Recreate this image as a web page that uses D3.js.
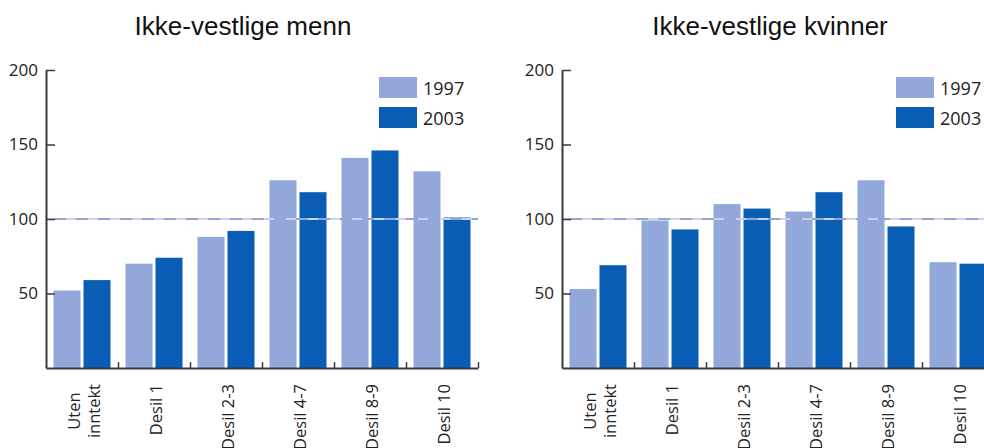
<!DOCTYPE html>
<html>
<head>
<meta charset="utf-8">
<script src="https://cdn.jsdelivr.net/npm/d3@7"></script>
<style>
  html, body { margin: 0; padding: 0; background: #ffffff; }
  svg { display: block; }
</style>
</head>
<body>
<svg id="chart" width="984" height="448"></svg>
<script>
// ---- data ----
const categories = ["Uten\ninntekt", "Desil 1", "Desil 2-3", "Desil 4-7", "Desil 8-9", "Desil 10"];
const years = ["1997", "2003"];
const titles = ["Ikke-vestlige menn", "Ikke-vestlige kvinner"];
const menn1997 = [52, 70, 88, 126, 141, 132];
const menn2003 = [59, 74, 92, 118, 146, 101];
const kvinner1997 = [53, 99, 110, 105, 126, 71];
const kvinner2003 = [69, 93, 107, 118, 95, 70];
const yTicks = [50, 100, 150, 200];
const referenceValue = 100;

const panels = [
  { title: titles[0], series: [menn1997, menn2003], x0: 46, titleX: 243, legendX: 379 },
  { title: titles[1], series: [kvinner1997, kvinner2003], x0: 562, titleX: 770, legendX: 896 }
];

const colors = ["#93a8da", "#0a5db4"];
const svg = d3.select("#chart");
const bandW = 72;
const yTop = 70, yBase = 368;

panels.forEach(p => {
  const g = svg.append("g");
  const x = d3.scaleBand().domain(categories).range([p.x0, p.x0 + bandW * categories.length]).padding(0);
  const x1 = d3.scaleBand().domain(years).range([7.5, 64.5]).paddingInner(0.1);
  const y = d3.scaleLinear().domain([0, 200]).range([yBase, yTop]);

  // title
  g.append("text")
    .attr("x", p.titleX).attr("y", 35)
    .attr("text-anchor", "middle")
    .attr("font-family", "Liberation Sans, Arial, sans-serif")
    .attr("font-size", 26)
    .attr("fill", "#111")
    .text(p.title);

  // bars
  years.forEach((yr, si) => {
    g.append("g").selectAll("rect")
      .data(p.series[si])
      .join("rect")
      .attr("x", (d, i) => x(categories[i]) + x1(yr))
      .attr("width", x1.bandwidth())
      .attr("y", d => y(d))
      .attr("height", d => y(0) - y(d))
      .attr("fill", colors[si]);
  });

  // reference dashed line
  g.append("line")
    .attr("x1", p.x0).attr("x2", x.range()[1])
    .attr("y1", y(referenceValue)).attr("y2", y(referenceValue))
    .attr("stroke", "#c9d4ea").attr("stroke-width", 2);
  g.append("line")
    .attr("x1", p.x0 + 2).attr("x2", x.range()[1])
    .attr("y1", y(referenceValue)).attr("y2", y(referenceValue))
    .attr("stroke", "#8e9fcb").attr("stroke-width", 2)
    .attr("stroke-dasharray", "12,10").attr("stroke-dashoffset", -6)
    .attr("opacity", 0.85);

  // y axis
  const yAxis = d3.axisLeft(y).tickValues(yTicks).tickSize(-9).tickSizeOuter(0).tickPadding(8);
  const ya = g.append("g").attr("transform", `translate(${p.x0},0)`).call(yAxis);
  ya.select(".domain").attr("stroke", "#3a3a3a").attr("stroke-width", 2);
  ya.selectAll(".tick line").attr("stroke", "#3a3a3a").attr("stroke-width", 1.5);
  ya.selectAll(".tick text")
    .attr("font-family", "Open Sans, sans-serif")
    .attr("font-size", 17).attr("fill", "#222");

  // x axis (ticks at band boundaries)
  const xb = d3.scaleLinear().domain([0, categories.length]).range(x.range());
  const xAxis = d3.axisBottom(xb).tickValues(d3.range(1, categories.length + 1))
    .tickSize(-6).tickSizeOuter(0).tickFormat("");
  const xa = g.append("g").attr("transform", `translate(0,${yBase})`).call(xAxis);
  xa.select(".domain").attr("stroke", "#3a3a3a").attr("stroke-width", 2);
  xa.selectAll(".tick line").attr("stroke", "#3a3a3a").attr("stroke-width", 1.5);

  // category labels (rotated)
  categories.forEach(c => {
    const lines = c.split("\n");
    const cx = x(c) + x.bandwidth() / 2 + 1;
    const t = g.append("text")
      .attr("font-family", "Open Sans, sans-serif")
      .attr("font-size", 16.5)
      .attr("fill", "#222")
      .attr("text-anchor", "middle");
    const lh = 20;
    lines.forEach((ln, li) => {
      t.append("tspan")
        .attr("x", 0)
        .attr("y", (li - (lines.length - 1) / 2) * lh)
        .attr("dominant-baseline", "central")
        .text(ln);
    });
    let maxLen = 0;
    t.selectAll("tspan").each(function() { maxLen = Math.max(maxLen, this.getComputedTextLength()); });
    t.attr("transform", `translate(${cx},${384 + maxLen / 2}) rotate(-90)`);
  });

  // legend
  years.forEach((yr, si) => {
    const ly = 77 + si * 30;
    g.append("rect").attr("x", p.legendX).attr("y", ly).attr("width", 38).attr("height", 21)
      .attr("fill", colors[si]);
    g.append("text").attr("x", p.legendX + 44).attr("y", ly + 10.5)
      .attr("dominant-baseline", "central")
      .attr("font-family", "Open Sans, sans-serif")
      .attr("font-size", 18).attr("fill", "#222")
      .text(yr);
  });
});
</script>
</body>
</html>
